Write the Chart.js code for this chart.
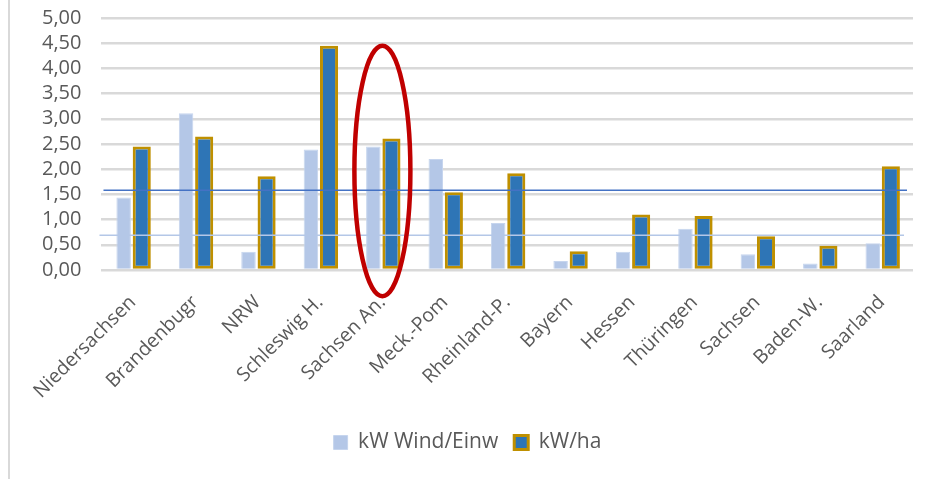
<!DOCTYPE html>
<html>
<head>
<meta charset="utf-8">
<script src="https://cdn.jsdelivr.net/npm/chart.js@4.4.1/dist/chart.umd.min.js"></script>
<style>
  html, body { margin: 0; padding: 0; background: #fff; }
  #wrap { position: relative; width: 935px; height: 479px; }
  #edge { position: absolute; left: 8px; top: 0; width: 2px; height: 479px; background: #d9d9d9; }
</style>
</head>
<body>
<div id="wrap">
  <div id="edge"></div>
  <canvas id="myChart" width="935" height="479"></canvas>
</div>
<script>
 // Bundesländer
 const laender = ['Niedersachsen', 'Brandenbugr', 'NRW', 'Schleswig H.', 'Sachsen An.', 'Meck.-Pom',
   'Rheinland-P.', 'Bayern', 'Hessen', 'Thüringen', 'Sachsen', 'Baden-W.', 'Saarland'];
 const windProEinw = [1.44, 3.11, 0.36, 2.39, 2.45, 2.20, 0.93, 0.18, 0.36, 0.82, 0.31, 0.13, 0.53];
 const kwProHa     = [2.45, 2.65, 1.86, 4.45, 2.61, 1.54, 1.92, 0.37, 1.10, 1.07, 0.67, 0.48, 2.06];
 // Durchschnittslinien (kW/ha, kW Wind/Einw)
 const mittelHa = 1.58;
 const mittelEinw = 0.69;
 const markiert = 'Sachsen An.';

 const lines = {
   id: 'lines',
   afterDatasetsDraw(chart) {
     const {ctx, chartArea, scales} = chart;
     ctx.save();
     let y = scales.y.getPixelForValue(mittelHa);
     ctx.strokeStyle = '#4472c4';
     ctx.lineWidth = 1.5;
     ctx.beginPath();
     ctx.moveTo(chartArea.left + 2, y);
     ctx.lineTo(chartArea.right - 6, y);
     ctx.stroke();
     y = scales.y.getPixelForValue(mittelEinw);
     ctx.strokeStyle = '#b4c7e7';
     ctx.beginPath();
     ctx.moveTo(chartArea.left - 2, y);
     ctx.lineTo(chartArea.right - 9, y);
     ctx.stroke();
     // Ellipse um Sachsen An.
     const i = laender.indexOf(markiert);
     const cx = scales.x.getPixelForValue(i);
     const top = scales.y.getPixelForValue(4.45);
     const bot = scales.y.getPixelForValue(-0.52);
     ctx.strokeStyle = '#c00000';
     ctx.lineWidth = 4.5;
     ctx.beginPath();
     ctx.ellipse(cx, (top + bot) / 2, 28, (bot - top) / 2, 0, 0, Math.PI * 2);
     ctx.stroke();
     ctx.restore();
   }
 };

 const CHART = document.getElementById('myChart');
 const myChart = new Chart(CHART, {
   type: 'bar',
   data: {
     labels: laender,
     datasets: [{
       label: 'kW Wind/Einw',
       data: windProEinw,
       backgroundColor: '#b4c7e7',
       borderColor: '#c6d5ee',
       borderWidth: 1,
       borderSkipped: 'bottom',
       barPercentage: 0.8,
       categoryPercentage: 0.58
     }, {
       label: 'kW/ha',
       data: kwProHa,
       backgroundColor: '#2e75b6',
       borderColor: '#bf9000',
       borderWidth: 3,
       borderSkipped: false,
       barPercentage: 1.0,
       categoryPercentage: 0.58
     }]
   },
   options: {
     responsive: false,
     animation: false,
     layout: { padding: { left: 22, right: 22, top: 18, bottom: 16 } },
     plugins: {
       legend: {
         position: 'bottom',
         labels: {
           color: '#595959',
           font: { family: 'Open Sans', size: 21 },
           boxWidth: 14,
           boxHeight: 14,
           padding: 16
         }
       },
       tooltip: { enabled: false }
     },
     scales: {
       x: {
         grid: { display: false },
         border: { display: false },
         ticks: {
           autoSkip: false,
           color: '#595959',
           font: { family: 'Open Sans', size: 19.5 },
           minRotation: 45,
           maxRotation: 45,
           padding: 13
         }
       },
       y: {
         min: 0,
         max: 5,
         afterFit(s) { s.paddingTop = 0; },
         grid: { color: '#d9d9d9', lineWidth: 2.5, drawTicks: false },
         border: { display: false },
         ticks: {
           autoSkip: false,
           stepSize: 0.5,
           padding: 20,
           color: '#595959',
           font: { family: 'Open Sans', size: 20 },
           callback: v => v.toFixed(2).replace('.', ',')
         }
       }
     }
   },
   plugins: [lines]
 });
</script>
</body>
</html>
